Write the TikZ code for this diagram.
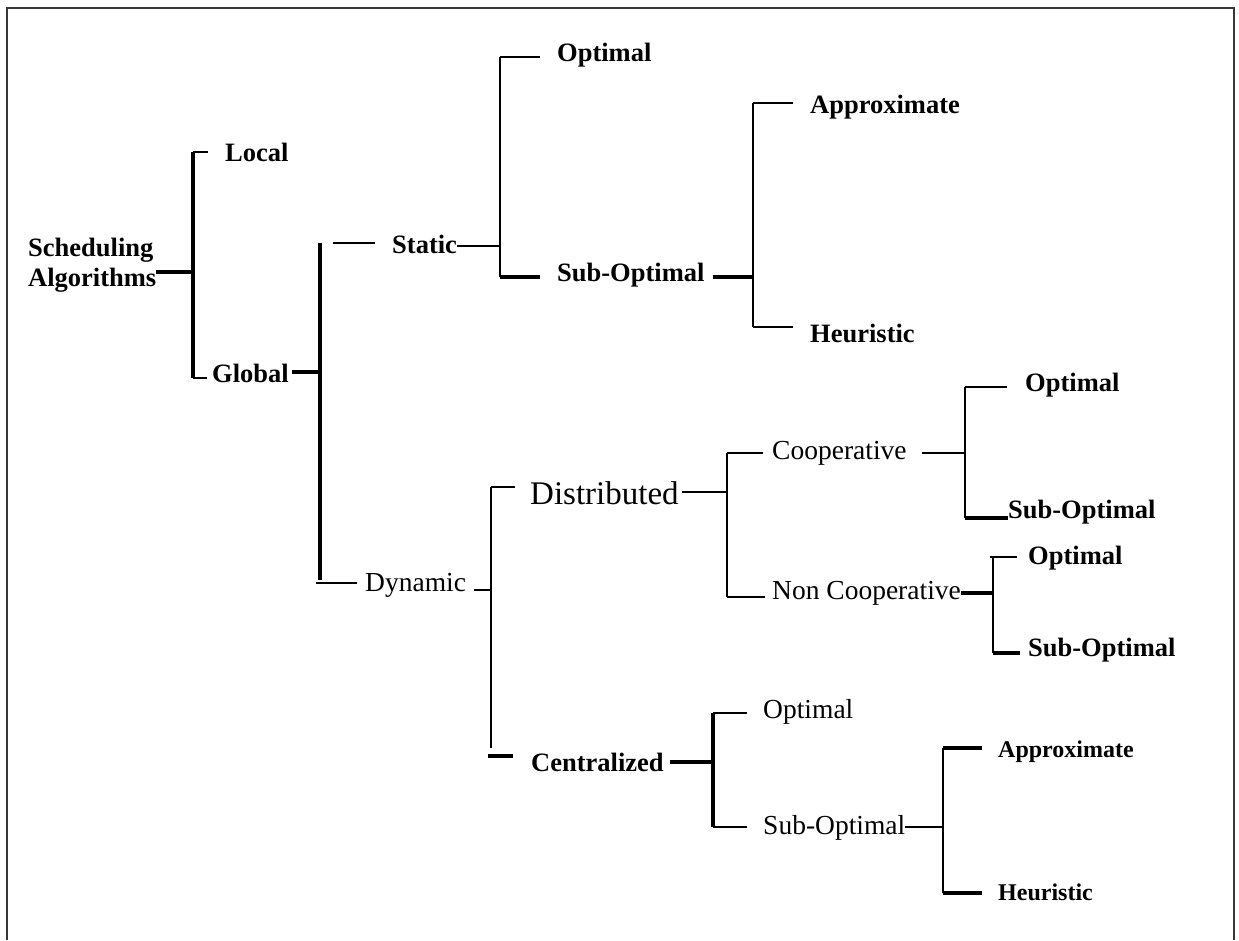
\documentclass[tikz,border=0pt]{standalone}
\usepackage{fontspec}
\setmainfont{Liberation Serif}
\definecolor{framegray}{RGB}{55,55,55}
\begin{document}
\begin{tikzpicture}[x=1pt,y=-1pt,
  lbl/.style={anchor=west, inner sep=0pt, font=\fontsize{27.5}{30}\selectfont},
  blbl/.style={anchor=west, inner sep=0pt, font=\fontsize{26.5}{30}\selectfont\bfseries},
  sblbl/.style={anchor=west, inner sep=0pt, font=\fontsize{24}{30}\selectfont\bfseries},
  lnthin/.style={line width=1.8pt},
  lnmid/.style={line width=2.4pt},
  lnheavy/.style={line width=3.2pt}]
\useasboundingbox (0,0) rectangle (1239,940);
% open frame (no bottom edge)
\draw[framegray, line width=2pt] (6.5,940) -- (6.5,8) -- (1234,8) -- (1234,940);

% ---- labels ----
\node[blbl, align=left] (sched) at (28,265) {Scheduling\\Algorithms};
\node[blbl] (local)   at (225,152) {Local};
\node[blbl] (global)  at (212,373) {Global};
\node[blbl] (static)  at (392,244) {Static};
\node[lbl]  (dynamic) at (365,585) {Dynamic};
\node[blbl] (optA)    at (557,55)  {Optimal};
\node[blbl] (subA)    at (557,275) {Sub-Optimal};
\node[blbl] (apxA)    at (810,107) {Approximate};
\node[blbl] (heuA)    at (810,333) {Heuristic};
\node[anchor=west, inner sep=0pt, font=\fontsize{33}{36}\selectfont] (distr) at (530,493) {Distributed};
\node[blbl] (central) at (531,762) {Centralized};
\node[lbl]  (coop)    at (772,453) {Cooperative};
\node[lbl]  (noncoop) at (772,593) {Non Cooperative};
\node[blbl] (optB)    at (1025,385) {Optimal};
\node[blbl] (subB)    at (1008,512) {Sub-Optimal};
\node[blbl] (optC)    at (1028,558) {Optimal};
\node[blbl] (subC)    at (1028,650) {Sub-Optimal};
\node[lbl]  (optD)    at (763,712) {Optimal};
\node[lbl]  (subD)    at (763,828) {Sub-Optimal};
\node[sblbl] (apxD)   at (998,752) {Approximate};
\node[sblbl] (heuD)   at (998,892) {Heuristic};

% ---- bracket coordinates ----
\coordinate (r1) at (193,272); \coordinate (r1t) at (193,152); \coordinate (r1b) at (193,378);
\coordinate (r2) at (320,372); \coordinate (r2t) at (320,243); \coordinate (r2b) at (320,580);
\coordinate (r3) at (500,246); \coordinate (r3t) at (500,57);  \coordinate (r3b) at (500,277);
\coordinate (r4) at (753,277); \coordinate (r4t) at (753,103); \coordinate (r4b) at (753,327);
\coordinate (r5) at (491,590); \coordinate (r5t) at (491,487); \coordinate (r5b) at (491,748);
\coordinate (r6) at (727,492); \coordinate (r6t) at (727,453); \coordinate (r6b) at (727,597);
\coordinate (r7) at (965,453); \coordinate (r7t) at (965,387); \coordinate (r7b) at (965,518);
\coordinate (r8) at (993,593); \coordinate (r8t) at (993,557); \coordinate (r8b) at (993,653);
\coordinate (r9) at (713,762); \coordinate (r9t) at (713,713); \coordinate (r9b) at (713,827);
\coordinate (r10) at (943,827); \coordinate (r10t) at (943,748); \coordinate (r10b) at (943,893);
% free tick positions just below the bars of Global and Dynamic
\coordinate (dyntick) at (316,583);
\coordinate (centick) at (488,756);

% ---- Scheduling Algorithms ----
\draw[lnheavy] (sched.east |- r1) -- (r1);
\draw[lnheavy] (r1t) -- (r1b);
\draw[lnthin] (r1t) -- ([xshift=-17pt]local.west |- r1t);
\draw[lnthin] (r1b) -- ([xshift=-5pt]global.west |- r1b);

% ---- Global ----
\draw[lnheavy] ([xshift=3pt]global.east |- r2) -- (r2);
\draw[lnheavy] (r2t) -- (r2b);
\draw[lnthin] ([xshift=13pt]r2t) -- ([xshift=-17pt]static.west |- r2t);
\draw[lnthin] (dyntick) -- ([xshift=-8pt]dynamic.west |- dyntick);

% ---- Static ----
\draw[lnthin] (static.east |- r3) -- (r3);
\draw[lnmid] (r3t) -- (r3b);
\draw[lnmid] (r3t) -- ([xshift=-17pt]optA.west |- r3t);
\draw[lnheavy] (r3b) -- ([xshift=-17pt]subA.west |- r3b);
\draw[lnheavy] ([xshift=8pt]subA.east |- r4) -- (r4);
\draw[lnthin] (r4t) -- (r4b);
\draw[lnthin] (r4t) -- ([xshift=-17pt]apxA.west |- r4t);
\draw[lnthin] (r4b) -- ([xshift=-17pt]heuA.west |- r4b);

% ---- Dynamic ----
\draw[lnthin] ([xshift=8pt]dynamic.east |- r5) -- (r5);
\draw[lnthin] (r5t) -- (r5b);
\draw[lnthin] (r5t) -- ([xshift=-15pt]distr.west |- r5t);
\draw[lnheavy] (centick) -- ([xshift=-18pt]central.west |- centick);

% ---- Distributed ----
\draw[lnthin] ([xshift=3pt]distr.east |- r6) -- (r6);
\draw[lnthin] (r6t) -- (r6b);
\draw[lnthin] (r6t) -- ([xshift=-9pt]coop.west |- r6t);
\draw[lnthin] (r6b) -- ([xshift=-7pt]noncoop.west |- r6b);

% ---- Cooperative ----
\draw[lnthin] ([xshift=15pt]coop.east |- r7) -- (r7);
\draw[lnthin] (r7t) -- (r7b);
\draw[lnthin] (r7t) -- ([xshift=-18pt]optB.west |- r7t);
\draw[lnheavy] (r7b) -- (subB.west |- r7b);

% ---- Non Cooperative ----
\draw[lnheavy] (noncoop.east |- r8) -- (r8);
\draw[lnthin] (r8t) -- (r8b);
\draw[lnthin] ([xshift=-3pt]r8t) -- ([xshift=-11pt]optC.west |- r8t);
\draw[lnheavy] (r8b) -- ([xshift=-8pt]subC.west |- r8b);

% ---- Centralized ----
\draw[lnheavy] ([xshift=6pt]central.east |- r9) -- (r9);
\draw[lnheavy] (r9t) -- (r9b);
\draw[lnthin] (r9t) -- ([xshift=-16pt]optD.west |- r9t);
\draw[lnthin] (r9b) -- ([xshift=-16pt]subD.west |- r9b);
\draw[lnthin] (subD.east |- r10) -- (r10);
\draw[lnthin] (r10t) -- (r10b);
\draw[lnheavy] (r10t) -- ([xshift=-16pt]apxD.west |- r10t);
\draw[lnheavy] (r10b) -- ([xshift=-16pt]heuD.west |- r10b);
\end{tikzpicture}
\end{document}
